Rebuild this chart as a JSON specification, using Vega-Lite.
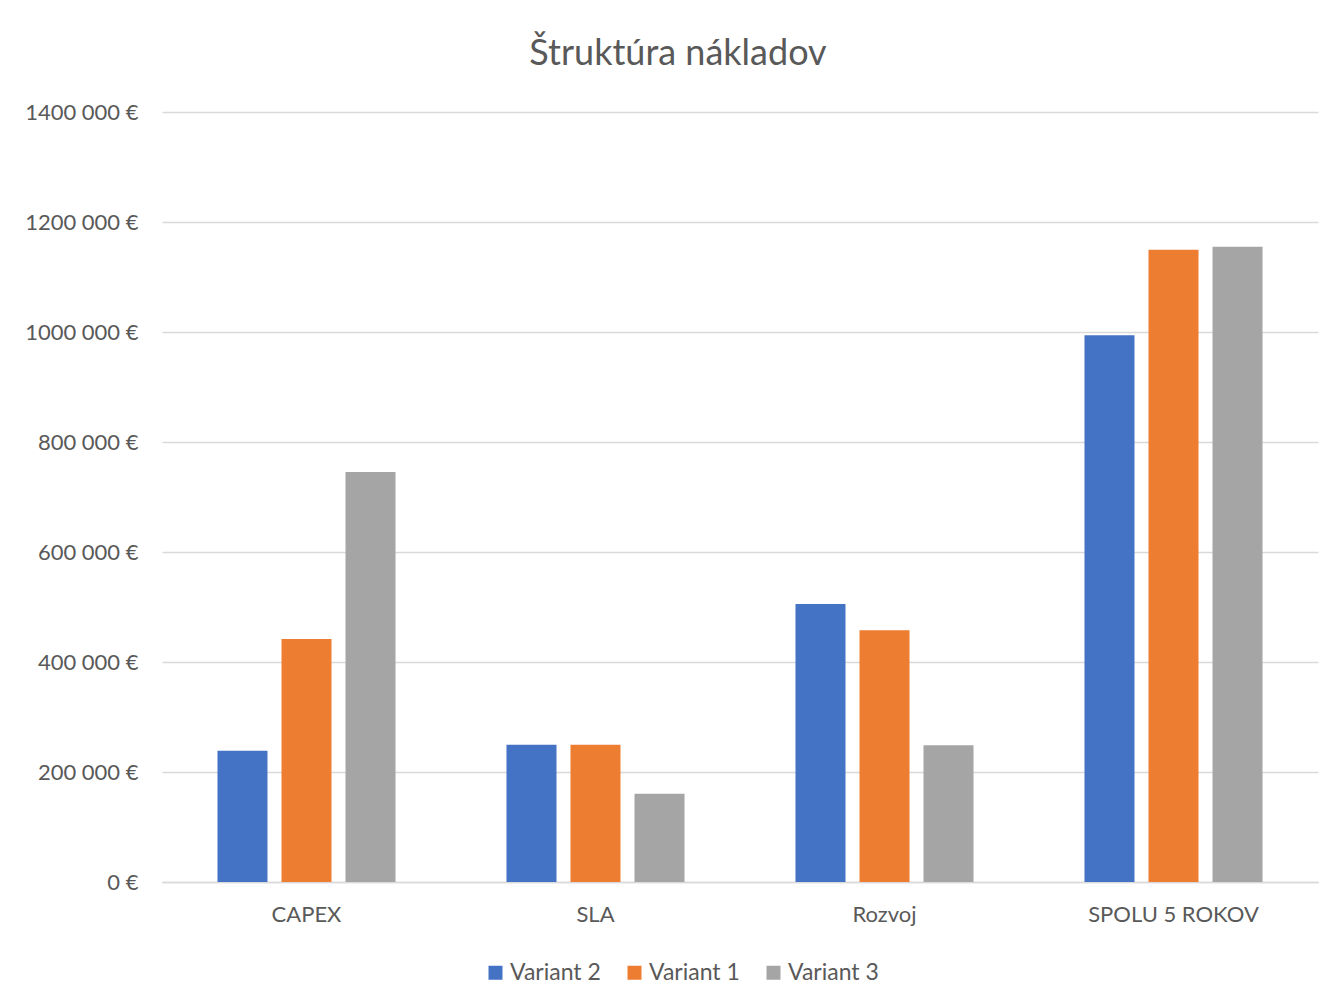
{
  "$schema": "https://vega.github.io/schema/vega-lite/v6.json",
  "autosize": {"type": "none"},
  "width": 1156,
  "height": 770,
  "padding": {"left": 162, "top": 112, "right": 22, "bottom": 123},
  "background": "white",
  "config": {
    "font": "Lato",
    "view": {"stroke": null},
    "axis": {"labelFont": "Lato", "labelColor": "#595959"},
    "legend": {"labelFont": "Lato"}
  },
  "title": {
    "text": "Štruktúra nákladov",
    "font": "Lato",
    "fontSize": 36,
    "fontWeight": "normal",
    "color": "#595959",
    "anchor": "middle",
    "frame": "group",
    "baseline": "alphabetic",
    "offset": 0,
    "dx": -62
  },
  "data": {
    "values": [
      {"kategoria": "CAPEX", "variant": "Variant 2", "naklady": 238700},
      {"kategoria": "CAPEX", "variant": "Variant 1", "naklady": 441800},
      {"kategoria": "CAPEX", "variant": "Variant 3", "naklady": 745500},
      {"kategoria": "SLA", "variant": "Variant 2", "naklady": 249600},
      {"kategoria": "SLA", "variant": "Variant 1", "naklady": 249600},
      {"kategoria": "SLA", "variant": "Variant 3", "naklady": 160500},
      {"kategoria": "Rozvoj", "variant": "Variant 2", "naklady": 505500},
      {"kategoria": "Rozvoj", "variant": "Variant 1", "naklady": 457600},
      {"kategoria": "Rozvoj", "variant": "Variant 3", "naklady": 248500},
      {"kategoria": "SPOLU 5 ROKOV", "variant": "Variant 2", "naklady": 994000},
      {"kategoria": "SPOLU 5 ROKOV", "variant": "Variant 1", "naklady": 1149600},
      {"kategoria": "SPOLU 5 ROKOV", "variant": "Variant 3", "naklady": 1155100}
    ]
  },
  "mark": {"type": "bar"},
  "encoding": {
    "x": {
      "field": "kategoria",
      "type": "nominal",
      "sort": ["CAPEX", "SLA", "Rozvoj", "SPOLU 5 ROKOV"],
      "scale": {"paddingInner": 0.384, "paddingOuter": 0.192},
      "axis": {
        "title": null,
        "labelAngle": 0,
        "labelFontSize": 22,
        "labelPadding": 22,
        "ticks": false,
        "domainColor": "#D9D9D9",
        "domainWidth": 1.5,
        "grid": false
      }
    },
    "xOffset": {
      "field": "variant",
      "type": "nominal",
      "sort": ["Variant 2", "Variant 1", "Variant 3"],
      "scale": {"paddingInner": 0.21875, "paddingOuter": 0}
    },
    "y": {
      "field": "naklady",
      "type": "quantitative",
      "scale": {"domain": [0, 1400000], "nice": false},
      "axis": {
        "title": null,
        "values": [0, 200000, 400000, 600000, 800000, 1000000, 1200000, 1400000],
        "labelExpr": "datum.value == 0 ? '0 €' : floor(datum.value / 1000) + ' 000 €'",
        "labelFontSize": 22,
        "labelPadding": 24,
        "ticks": false,
        "domain": false,
        "gridColor": "#D9D9D9",
        "gridWidth": 1.5
      }
    },
    "color": {
      "field": "variant",
      "type": "nominal",
      "sort": ["Variant 2", "Variant 1", "Variant 3"],
      "scale": {
        "domain": ["Variant 2", "Variant 1", "Variant 3"],
        "range": ["#4472C4", "#ED7D31", "#A5A5A5"]
      },
      "legend": {
        "title": null,
        "orient": "none",
        "direction": "horizontal",
        "legendX": 322,
        "legendY": 849,
        "symbolType": "square",
        "symbolSize": 196,
        "symbolStrokeWidth": 0,
        "labelFontSize": 23,
        "labelColor": "#595959",
        "labelOffset": 3,
        "columnPadding": 22
      }
    }
  }
}
